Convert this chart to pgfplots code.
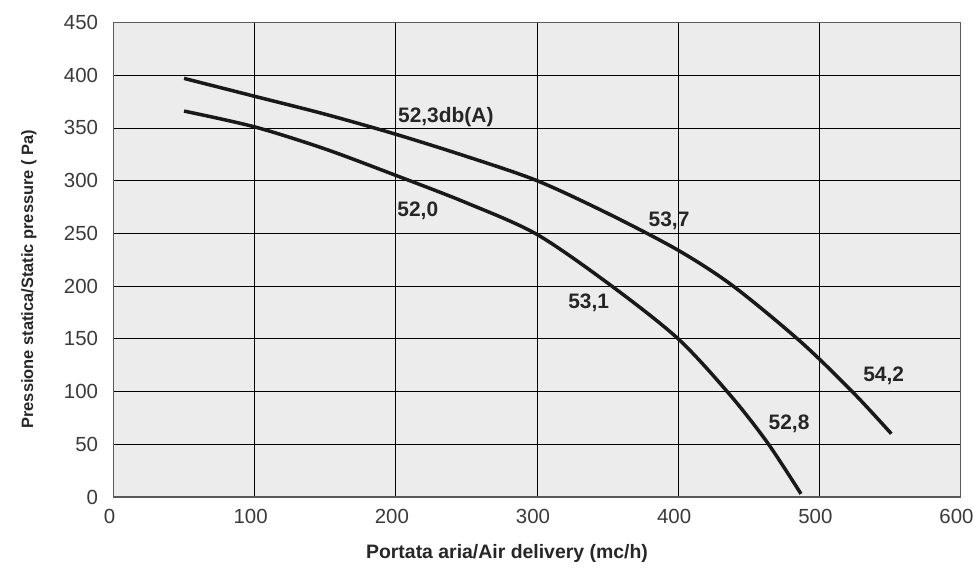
\documentclass[border=0pt]{standalone}
\usepackage{pgfplots}
\pgfplotsset{compat=1.18}
\usepackage{fontspec}
\setmainfont{Liberation Sans}
\definecolor{bgc}{HTML}{ECECEC}
\definecolor{tickc}{HTML}{3A3A3A}
\definecolor{framec}{HTML}{5A5A5A}
\begin{document}
\begin{tikzpicture}
\useasboundingbox (-113.5bp,-72bp) rectangle (859.5bp,497bp);
\begin{axis}[
  scale only axis,
  width=847bp, height=474.5bp,
  xmin=0, xmax=600, ymin=0, ymax=450,
  xtick={0,100,...,600},
  ytick={0,50,...,450},
  grid=major,
  major grid style={black, line width=0.8bp},
  axis background/.style={fill=bgc},
  axis line style={framec, line width=1.5bp},
  tick style={draw=none},
  /pgf/number format/assume math mode=true,
  /pgf/number format/1000 sep={},
  ticklabel style={font=\fontsize{20.5}{20.5}\selectfont, text=tickc},
  xticklabel style={yshift=-9bp, xshift=-4bp},
  yticklabel style={xshift=-12bp},
  xlabel={Portata aria/Air delivery (mc/h)},
  ylabel={Pressione statica/Static pressure ( Pa)},
  xlabel style={font=\fontsize{19.5}{19.5}\bfseries\selectfont, text=black!85, at={(axis description cs:0.4646,-0.118)}, anchor=center},
  ylabel style={font=\fontsize{16.5}{16.5}\bfseries\selectfont, text=black!85, at={(axis description cs:-0.0998,0.459)}, anchor=center, rotate=0},
  clip=false,
]
% upper curve
\addplot[black!90, line width=3.5bp, smooth, tension=0.5] coordinates {
(50,397) (100,380) (150,363) (200,344) (250,323) (300,300) (350,269) (400,234) (439,200) (487,147) (524,99) (551,60)
};
% lower curve
\addplot[black!90, line width=3.5bp, smooth, tension=0.5] coordinates {
(50,366) (100,351) (150,330) (200,305) (250,279) (300,249) (353,200) (400,150) (436,98) (463,52) (487,3)
};
\begin{scope}[every node/.style={font=\fontsize{21}{21}\bfseries\selectfont, text=black!85, anchor=west, inner sep=0pt}]
\node at (axis cs:201.5,360) {52,3db(A)};
\node at (axis cs:201,271) {52,0};
\node at (axis cs:379,262) {53,7};
\node at (axis cs:322,184) {53,1};
\node at (axis cs:531,115) {54,2};
\node at (axis cs:464,69) {52,8};
\end{scope}
\end{axis}
\end{tikzpicture}
\end{document}
